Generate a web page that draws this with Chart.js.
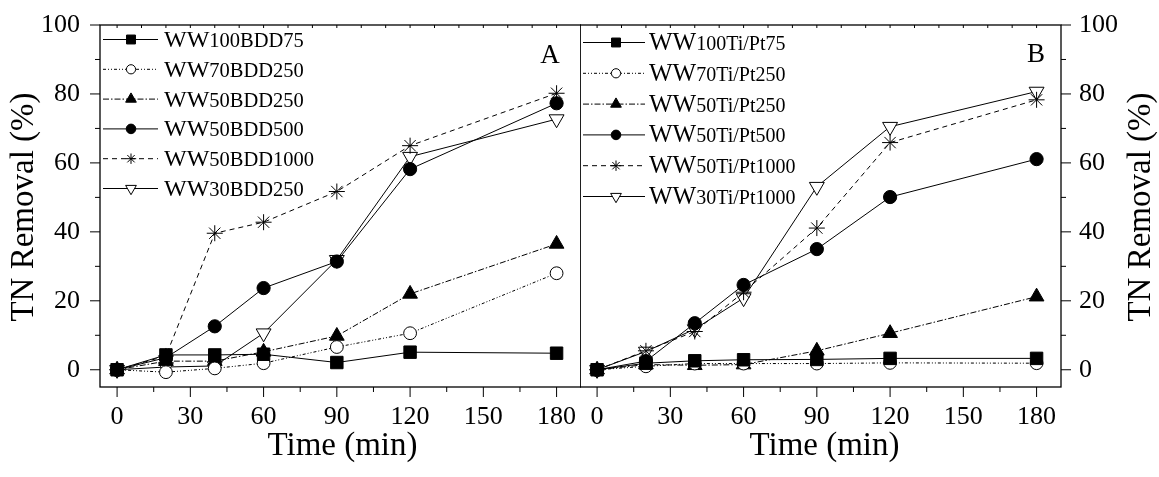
<!DOCTYPE html>
<html>
<head>
<meta charset="utf-8">
<script src="https://cdn.jsdelivr.net/npm/chart.js@4.4.1/dist/chart.umd.min.js"></script>
<style>
  html, body { margin: 0; padding: 0; background: #fff; width: 1159px; height: 477px; overflow: hidden; }
  #wrap { position: relative; width: 1159px; height: 477px; }
  canvas { position: absolute; top: 0; }
  #chartA { left: 0; }
  #chartB { left: 580px; }
</style>
</head>
<body>
<div id="wrap">
  <canvas id="chartA" width="581" height="477"></canvas>
  <canvas id="chartB" width="579" height="477"></canvas>
</div>
<script>
// ---- sampling times (min) and axis ticks ----
const TIME = [0, 20, 40, 60, 90, 120, 180];
const X_TICKS = [0, 30, 60, 90, 120, 150, 180];
const X_MINOR = [15, 45, 75, 105, 135, 165];
const X_TOP_TICKS = [0, 10, 20, 30, 40, 50, 60, 70, 80, 90, 100, 110, 120, 130, 140, 150, 160, 170, 180];
const Y_TICKS = [0, 20, 40, 60, 80, 100];
const Y_MINOR = [10, 30, 50, 70, 90];
const Y_INNER_TICKS = [0, 10, 20, 30, 40, 50, 60, 70, 80, 90, 100];

// ---- panel A: BDD anode, TN removal (%) ----
const LABELS_A = ['WW100BDD75', 'WW70BDD250', 'WW50BDD250', 'WW50BDD500', 'WW50BDD1000', 'WW30BDD250'];
const WW100BDD75  = [0, 4.3, 4.3, 4.5, 2.1, 5.1, 4.8];
const WW70BDD250  = [0, -0.7, 0.4, 1.9, 6.6, 10.6, 28.0];
const WW50BDD250  = [0, 2.5, 2.5, 5.2, 9.8, 22.0, 36.5];
const WW50BDD500  = [0, 3.5, 12.6, 23.7, 31.4, 58.2, 77.3];
const WW50BDD1000 = [0, 4.0, 39.6, 42.8, 51.7, 65.0, 80.2];
const WW30BDD250  = [0, 0.8, 1.1, 10.6, 31.9, 61.8, 72.7];

// ---- panel B: Ti/Pt anode, TN removal (%) ----
const LABELS_B = ['WW100Ti/Pt75', 'WW70Ti/Pt250', 'WW50Ti/Pt250', 'WW50Ti/Pt500', 'WW50Ti/Pt1000', 'WW30Ti/Pt1000'];
const WW100TiPt75   = [0, 1.9, 2.6, 2.9, 3.0, 3.3, 3.3];
const WW70TiPt250   = [0, 1.0, 1.8, 1.8, 1.8, 2.0, 1.9];
const WW50TiPt250   = [0, 1.5, 1.3, 1.5, 5.5, 10.6, 21.2];
const WW50TiPt500   = [0, 2.5, 13.5, 24.6, 35.0, 50.1, 61.1];
const WW50TiPt1000  = [0, 5.5, 11.1, 22.5, 41.1, 65.9, 78.3];
const WW30TiPt1000  = [0, 5.3, 11.8, 20.8, 53.1, 70.5, 80.7];

const PANEL_A_TAG = 'A';
const PANEL_B_TAG = 'B';
const X_TITLE = 'Time (min)';
const Y_TITLE = 'TN Removal (%)';

const SERIF = "'Liberation Serif', 'Times New Roman', serif";

// line and marker style for the six series (same order in both panels)
const STYLES = [
  { pointStyle: 'rect',     rotation: 0,   radius: 8.8, fill: '#000', dash: [],                 legendR: 6.3 },
  { pointStyle: 'circle',   rotation: 0,   radius: 6.4, fill: '#fff', dash: [3, 2, 1, 2, 1, 2], legendR: 4.6 },
  { pointStyle: 'triangle', rotation: 0,   radius: 8.5, fill: '#000', dash: [6, 2, 1.5, 2],     legendR: 6.2 },
  { pointStyle: 'circle',   rotation: 0,   radius: 6.6, fill: '#000', dash: [],                 legendR: 4.8 },
  { pointStyle: 'star',     rotation: 0,   radius: 8.0, fill: '#fff', dash: [5, 4],             legendR: 5.2 },
  { pointStyle: 'triangle', rotation: 180, radius: 8.6, fill: '#fff', dash: [],                 legendR: 6.2 }
];

function buildDatasets(labels, seriesList) {
  return seriesList.map((values, i) => {
    const s = STYLES[i];
    return {
      label: labels[i],
      data: values.map((v, k) => ({ x: TIME[k], y: v })),
      borderColor: '#000',
      borderWidth: 1,
      borderDash: s.dash,
      backgroundColor: s.fill,
      pointStyle: s.pointStyle,
      pointRotation: s.rotation,
      pointRadius: s.radius,
      pointBorderWidth: 1,
      pointBackgroundColor: s.fill,
      pointBorderColor: '#000',
      tension: 0,
      fill: false,
      clip: false
    };
  });
}

// fallback marker drawing if helpers are not exposed
function drawMarker(ctx, style, r, x, y) {
  if (Chart.helpers && Chart.helpers.drawPoint) {
    Chart.helpers.drawPoint(ctx, { pointStyle: style.pointStyle, rotation: style.rotation, radius: r, borderWidth: 1 }, x, y);
    return;
  }
  ctx.beginPath();
  ctx.arc(x, y, r, 0, Math.PI * 2);
  ctx.fill();
  ctx.stroke();
}

// frame, tick marks, titles, panel tag and legend
const decorPlugin = {
  id: 'decor',
  afterDraw(chart, args, o) {
    const { ctx, chartArea: a, scales: { x, y } } = chart;
    ctx.save();
    ctx.strokeStyle = '#000';
    ctx.fillStyle = '#000';
    ctx.setLineDash([]);

    // frame
    ctx.lineWidth = 1.3;
    ctx.strokeRect(a.left, a.top, a.right - a.left, a.bottom - a.top);

    // tick marks
    ctx.lineWidth = 1;
    ctx.beginPath();
    X_TICKS.forEach(v => { const p = x.getPixelForValue(v); ctx.moveTo(p, a.bottom); ctx.lineTo(p, a.bottom + 10); });
    X_MINOR.forEach(v => { const p = x.getPixelForValue(v); ctx.moveTo(p, a.bottom); ctx.lineTo(p, a.bottom + 5); });
    X_TOP_TICKS.forEach(v => { const p = x.getPixelForValue(v); ctx.moveTo(p, a.top); ctx.lineTo(p, a.top + 3); });
    const yEdge = o.side === 'left' ? a.left : a.right;
    const dir = o.side === 'left' ? -1 : 1;
    Y_TICKS.forEach(v => { const p = y.getPixelForValue(v); ctx.moveTo(yEdge, p); ctx.lineTo(yEdge + dir * 10, p); });
    Y_MINOR.forEach(v => { const p = y.getPixelForValue(v); ctx.moveTo(yEdge, p); ctx.lineTo(yEdge + dir * 5, p); });
    if (o.innerOpposite) {
      const e = o.side === 'left' ? a.right : a.left;
      Y_INNER_TICKS.forEach(v => { const p = y.getPixelForValue(v); ctx.moveTo(e, p); ctx.lineTo(e - dir * 3, p); });
    }
    ctx.stroke();

    // axis titles
    ctx.font = '33px ' + SERIF;
    ctx.textAlign = 'center';
    ctx.textBaseline = 'alphabetic';
    ctx.fillText(X_TITLE, (a.left + a.right) / 2 + o.xTitleDx, o.xTitleY);
    ctx.save();
    ctx.translate(o.yTitleX, (a.top + a.bottom) / 2 + 1);
    ctx.rotate(-Math.PI / 2);
    ctx.font = '33px ' + SERIF;
    ctx.fillText(Y_TITLE, 0, 0);
    ctx.restore();

    // panel tag
    ctx.font = '27px ' + SERIF;
    ctx.textAlign = 'center';
    ctx.fillText(o.tag, o.tagX, o.tagY);

    // legend
    const L = o.legend;
    chart.data.datasets.forEach((ds, i) => {
      const s = STYLES[i];
      const ry = L.y0 + i * L.dy;
      ctx.lineWidth = 1;
      ctx.setLineDash(s.dash);
      ctx.beginPath();
      ctx.moveTo(L.x0, ry);
      ctx.lineTo(L.x1, ry);
      ctx.stroke();
      ctx.setLineDash([]);
      ctx.fillStyle = s.fill;
      ctx.strokeStyle = '#000';
      drawMarker(ctx, s, s.legendR, L.mx, ry);
      ctx.fillStyle = '#000';
      ctx.textAlign = 'left';
      ctx.textBaseline = 'alphabetic';
      const head = ds.label.slice(0, 2);
      const tail = ds.label.slice(2);
      ctx.font = L.bigSize + 'px ' + SERIF;
      ctx.fillText(head, L.tx, ry + L.base);
      const w = ctx.measureText(head).width;
      ctx.font = L.smallSize + 'px ' + SERIF;
      ctx.fillText(tail, L.tx + w, ry + L.base);
    });
    ctx.restore();
  }
};

function makeScales(side, yWidth) {
  return {
    x: {
      type: 'linear',
      min: -7,
      max: 190,
      afterBuildTicks: s => { s.ticks = X_TICKS.map(v => ({ value: v })); },
      afterFit: s => { s.height = 90; s.paddingLeft = 0; s.paddingRight = 0; s.paddingTop = 0; s.paddingBottom = 0; },
      grid: { display: false, drawTicks: false },
      border: { display: false },
      ticks: { font: { family: SERIF, size: 26 }, color: '#000', padding: 15, maxRotation: 0, autoSkip: false }
    },
    y: {
      type: 'linear',
      position: side,
      min: -5,
      max: 100,
      afterBuildTicks: s => { s.ticks = Y_TICKS.map(v => ({ value: v })); },
      afterFit: s => { s.width = yWidth; s.paddingLeft = 0; s.paddingRight = 0; s.paddingTop = 0; s.paddingBottom = 0; },
      grid: { display: false, drawTicks: false },
      border: { display: false },
      ticks: { font: { family: SERIF, size: 26 }, color: '#000', padding: side === 'left' ? 20 : 18 }
    }
  };
}

const commonOptions = {
  responsive: false,
  animation: false,
  devicePixelRatio: 1,
  events: [],
  plugins: { legend: { display: false }, tooltip: { enabled: false } }
};

new Chart(document.getElementById('chartA'), {
  type: 'line',
  data: { datasets: buildDatasets(LABELS_A, [WW100BDD75, WW70BDD250, WW50BDD250, WW50BDD500, WW50BDD1000, WW30BDD250]) },
  options: {
    ...commonOptions,
    layout: { autoPadding: false, padding: { top: 25, right: 0, left: 0, bottom: 0 } },
    scales: makeScales('left', 100),
    plugins: {
      ...commonOptions.plugins,
      decor: {
        side: 'left', innerOpposite: false,
        xTitleY: 455, xTitleDx: 2, yTitleX: 33,
        tag: PANEL_A_TAG, tagX: 550, tagY: 63,
        legend: { x0: 103, x1: 158, mx: 131, tx: 164, y0: 39.5, dy: 29.8, base: 7.5, bigSize: 24, smallSize: 20.5 }
      }
    }
  },
  plugins: [decorPlugin]
});

new Chart(document.getElementById('chartB'), {
  type: 'line',
  data: { datasets: buildDatasets(LABELS_B, [WW100TiPt75, WW70TiPt250, WW50TiPt250, WW50TiPt500, WW50TiPt1000, WW30TiPt1000]) },
  options: {
    ...commonOptions,
    layout: { autoPadding: false, padding: { top: 25, right: 0, left: 0, bottom: 0 } },
    scales: makeScales('right', 98),
    plugins: {
      ...commonOptions.plugins,
      decor: {
        side: 'right', innerOpposite: true,
        xTitleY: 455, xTitleDx: 4, yTitleX: 570,
        tag: PANEL_B_TAG, tagX: 456, tagY: 62,
        legend: { x0: 3, x1: 65, mx: 36, tx: 69, y0: 42.5, dy: 30.8, base: 7.4, bigSize: 25, smallSize: 20 }
      }
    }
  },
  plugins: [decorPlugin]
});
</script>
</body>
</html>
